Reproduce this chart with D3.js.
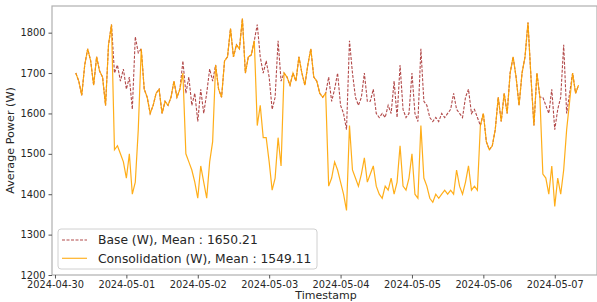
<!DOCTYPE html>
<html><head><meta charset="utf-8">
<script src="https://cdn.jsdelivr.net/npm/d3@7"></script>
<style>body{margin:0;background:#fff}svg{display:block}text{font-family:"DejaVu Sans",sans-serif;fill:#262626}</style>
</head><body><svg id="c" width="597" height="302"></svg>
<script>
// hourly samples starting 2024-04-30 07:00
const startHour = 7;
const consolidation = [1700,1680,1645,1720,1760,1730,1670,1740,1705,1690,1620,1770,1820,
1510,1520,1500,1480,1440,1500,1400,1430,1560,
1760,1660,1640,1600,1620,1650,1660,1600,1630,1620,1640,1680,1640,1660,1700,
1500,1480,1460,1430,1390,1470,1430,1390,1480,1530,
1720,1660,1640,1730,1740,1810,1740,1770,1760,1835,1700,1740,1745,1780,
1570,1620,1540,1540,1480,1410,1440,1540,1470,
1700,1690,1670,1700,1680,1740,1700,1670,1720,1760,1690,1680,1650,1640,1650,
1420,1440,1480,1460,1430,1400,1360,1570,1460,1440,1420,1450,1490,1430,1450,1470,
1420,1400,1390,1420,1410,1440,1400,1430,1520,1420,1410,1440,1500,1400,1390,1570,1440,1420,1390,1380,1400,1390,1400,1410,1400,1410,1400,1460,1420,1400,1430,1470,1410,1420,1410,
1570,1600,1530,1510,1520,1560,1640,1580,1650,1600,1700,1740,1690,1620,1700,1740,1825,1690,1570,1700,1640,
1450,1440,1400,1470,1370,1440,1400,1460,1560,1630,
1700,1650,1670];
const base = [1700,1680,1645,1720,1760,1730,1670,1740,1705,1690,1620,1770,1820,
1700,1720,1680,1710,1660,1690,1610,1790,1750,
1760,1660,1640,1600,1620,1650,1660,1600,1630,1620,1640,1680,1640,1660,1730,
1650,1690,1620,1650,1580,1660,1600,1650,1710,1680,
1720,1660,1640,1730,1740,1810,1740,1770,1760,1835,1700,1740,1745,1780,
1820,1740,1700,1730,1690,1610,1640,1780,1680,
1700,1690,1670,1700,1680,1740,1700,1670,1720,1760,1690,1680,1650,1640,1650,
1690,1630,1660,1700,1620,1600,1560,1780,1700,1640,1620,1640,1700,1630,1630,1660,
1600,1590,1600,1590,1620,1600,1680,1590,1720,1610,1590,1600,1700,1600,1580,1760,1630,1620,1590,1580,1590,1580,1600,1590,1600,1610,1650,1610,1600,1590,1640,1660,1600,1610,1590,
1570,1600,1530,1510,1520,1560,1640,1580,1650,1600,1700,1740,1690,1620,1700,1740,1825,1690,1570,1700,1640,
1640,1620,1600,1660,1560,1610,1640,1770,1600,1650,
1700,1650,1670];
const yTicks = [1200,1300,1400,1500,1600,1700,1800];
const seriesNames = ["Base (W), Mean : 1650.21","Consolidation (W), Mean : 1549.11"];

const svg = d3.select("#c");
const L=52, R=597, T=6, B=275;
const t0 = new Date(2024,3,30,0,0);
const x = d3.scaleTime().domain([d3.timeHour.offset(t0,-1), d3.timeMinute.offset(t0, 7*24*60+14*60+12)]).range([L,R]);
const y = d3.scaleLinear().domain([1200,1866]).range([B,T]);
const toPts = arr => arr.map((v,i)=>({t:d3.timeHour.offset(t0,startHour+i),v}));

// frame
svg.append("rect").attr("x",L).attr("y",T).attr("width",R-L).attr("height",B-T).attr("fill","none").attr("stroke","#b0b0b0").attr("stroke-width",1.2);

const line = d3.line().x(d=>x(d.t)).y(d=>y(d.v));
svg.append("path").datum(toPts(base)).attr("d",line).attr("fill","none").attr("stroke","#a52a2a").attr("stroke-opacity",0.85).attr("stroke-width",1.1).attr("stroke-dasharray","3,1.5");
svg.append("path").datum(toPts(consolidation)).attr("d",line).attr("fill","none").attr("stroke","#ffa500").attr("stroke-opacity",0.9).attr("stroke-width",1.2);

// axes
const xa = svg.append("g").attr("transform",`translate(0,${B})`).call(d3.axisBottom(x).ticks(d3.timeDay.every(1)).tickFormat(d3.timeFormat("%Y-%m-%d")).tickSize(3.5).tickSizeOuter(0));
const ya = svg.append("g").attr("transform",`translate(${L},0)`).call(d3.axisLeft(y).tickValues(yTicks).tickFormat(d3.format("d")).tickSize(3.5).tickSizeOuter(0));
[xa,ya].forEach(g=>{g.select(".domain").remove();g.selectAll("line").attr("stroke","#555");g.selectAll("text").attr("font-size","9.8px").attr("font-family","DejaVu Sans").attr("fill","#262626");});

svg.append("text").attr("x",326).attr("y",299).attr("text-anchor","middle").attr("font-size","11px").text("Timestamp");
svg.append("text").attr("transform",`translate(14,${(T+B)/2}) rotate(-90)`).attr("text-anchor","middle").attr("font-size","11.2px").text("Average Power (W)");

// legend
const lg = svg.append("g");
lg.append("rect").attr("x",58).attr("y",229).attr("width",259).attr("height",40).attr("rx",3).attr("fill","#fff").attr("fill-opacity",0.8).attr("stroke","#d0d0d0");
const styles=[{c:"#a52a2a",d:"3,1.5"},{c:"#ffa500",d:null}];
seriesNames.forEach((n,i)=>{
  const yy = 240 + i*18.3;
  lg.append("line").attr("x1",62).attr("x2",87).attr("y1",yy).attr("y2",yy).attr("stroke",styles[i].c).attr("stroke-opacity",0.85).attr("stroke-width",1.2).attr("stroke-dasharray",styles[i].d);
  lg.append("text").attr("x",98).attr("y",yy+4.4).attr("font-size","12.3px").text(n);
});
</script></body></html>
